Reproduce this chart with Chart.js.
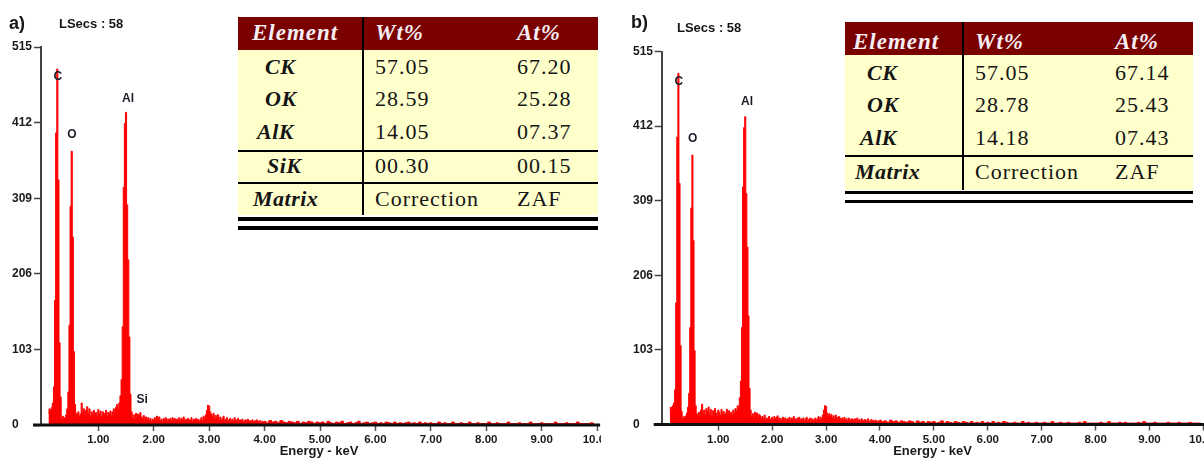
<!DOCTYPE html>
<html><head><meta charset="utf-8">
<script src="https://cdn.jsdelivr.net/npm/chart.js@4.4.1/dist/chart.umd.min.js"></script>
<style>
html,body{margin:0;padding:0;background:#fff;}
#wrap{position:relative;width:1204px;height:459px;overflow:hidden;background:#fff;}
.clip{position:absolute;top:0;height:459px;overflow:hidden;}
.clip canvas{position:absolute;left:0;top:0;}
.lbl{position:absolute;font-family:"Liberation Sans",Arial,sans-serif;font-weight:bold;color:#151515;white-space:nowrap;line-height:1;}
.tbl{position:absolute;background:#ffffcc;}
.blk{position:absolute;background:#000;}
.t{position:absolute;font-family:"Liberation Serif","Times New Roman",serif;white-space:nowrap;height:30px;line-height:30px;color:#151515;font-size:22px;letter-spacing:1px;}
.t.el{font-weight:bold;font-style:italic;letter-spacing:0.5px;}
.t.hd{font-weight:bold;font-style:italic;color:#f4eef4;font-size:23px;letter-spacing:1px;}
</style></head>
<body>
<div id="wrap">
  <div class="clip" style="left:0;width:601px;"><canvas id="cA" width="625" height="459"></canvas></div>
  <div class="clip" style="left:602px;width:602px;"><canvas id="cB" width="630" height="459"></canvas></div>
  <div class="lbl" style="left:9px;top:14px;font-size:18px;">a)</div>
  <div class="lbl" style="left:59px;top:17px;font-size:13px;">LSecs :&nbsp;58</div>
  <div class="lbl" style="left:631px;top:13px;font-size:18px;">b)</div>
  <div class="lbl" style="left:677px;top:21px;font-size:13px;">LSecs :&nbsp;58</div>
</div>
<script>
// ---------- data ----------
const xTickValues = [1,2,3,4,5,6,7,8,9,10];
const yTickStep = 103, yMax = 515;
const startKeV = 0.10, binKeV = 0.02;   // channel calibration of main arrays
const tailStartKeV = 4.00, tailBinKeV = 0.05;

// panel a) counts, 0.10 .. 3.98 keV
const countsA = [
  16,22,20,24,30,52,170,398,485,334,
  112,38,9,12,8,10,14,22,45,136,
  298,373,256,100,28,16,14,18,12,15,
  30,18,22,14,20,25,16,22,13,18,
  14,20,11,17,13,21,15,19,12,18,
  16,14,20,13,17,15,19,13,18,22,
  17,24,28,22,30,40,62,134,324,411,
  426,300,225,120,42,18,10,14,9,16,
  12,15,13,17,11,9,13,8,11,7,
  10,6,9,5,8,7,10,6,12,9,
  11,6,8,5,9,7,10,6,8,7,
  9,6,10,7,9,5,8,7,10,6,
  9,7,11,6,8,5,9,7,6,10,
  5,8,7,9,6,8,5,7,10,6,
  12,9,14,20,27,26,18,15,12,16,
  9,13,10,14,8,11,7,9,12,6,
  8,10,5,7,9,6,8,5,10,7,
  6,9,5,7,6,8,4,6,7,5,
  8,4,6,5,7,4,6,5,7,4,
  5,6,3,5,4
];
// panel a) counts, 4.00 .. 9.95 keV
const tailA = [
  5,3,6,4,5,3,6,4,3,5,
  4,3,5,2,4,3,5,4,2,4,
  3,4,2,5,3,2,4,3,5,2,
  3,4,2,3,5,2,3,4,2,3,
  4,2,3,2,4,3,2,4,2,3,
  2,3,4,2,3,2,4,2,3,2,
  3,2,2,4,2,3,2,2,4,2,
  2,3,2,2,4,2,2,3,2,2,
  2,4,2,2,3,2,2,2,4,2,
  2,2,3,2,2,2,4,2,2,2,
  3,2,2,2,2,4,2,2,2,3,
  2,2,2,4,2,2,2,2,3,2
];
// panel b) counts, 0.10 .. 3.98 keV
const countsB = [
  15,24,21,26,30,48,168,397,485,333,
  109,18,8,11,9,12,16,24,43,134,
  299,372,254,102,26,15,13,17,12,20,
  28,16,20,13,22,18,24,15,21,12,
  19,14,22,16,12,20,17,13,21,15,
  18,13,16,21,14,19,15,17,13,20,
  16,22,19,26,24,37,60,134,328,410,
  425,319,245,150,50,20,11,15,10,17,
  13,16,10,14,12,9,11,8,13,7,
  9,7,11,6,8,10,7,11,8,10,
  12,7,9,6,8,10,7,9,6,8,
  7,10,6,9,8,11,6,8,7,9,
  10,6,8,7,9,5,8,10,6,7,
  9,6,8,5,7,9,6,8,11,7,
  10,8,13,20,26,25,16,12,15,11,
  14,9,12,8,13,10,7,11,9,6,
  9,7,10,6,8,5,9,7,6,8,
  7,5,8,6,9,5,7,4,8,6,
  5,7,4,6,8,5,4,7,5,6,
  4,6,5,3,5
];
// panel b) counts, 4.00 .. 9.95 keV
const tailB = [
  6,4,5,3,6,4,5,3,5,4,
  3,5,4,2,5,3,4,2,4,3,
  4,2,3,5,2,4,3,2,4,3,
  2,4,3,2,4,2,3,2,4,2,
  3,2,4,2,3,2,4,3,2,2,
  3,2,2,4,2,3,2,2,3,2,
  2,3,2,2,4,2,2,3,2,2,
  3,2,2,2,3,2,4,2,2,2,
  2,2,3,2,2,4,2,2,2,3,
  2,3,2,2,2,2,3,2,4,2,
  2,2,3,2,2,2,2,3,2,2,
  2,3,2,2,2,3,2,2,2,2
];
// peak labels
const peakNamesA = ['C','O','Al','Si'];
const peakKeVA   = [0.27, 0.525, 1.535, 1.79];
const peakCntA   = [475, 395, 445, 34];
const peakNamesB = ['C','O','Al'];
const peakKeVB   = [0.27, 0.525, 1.532];
const peakCntB   = [473, 394, 446];

// tables
const tableHeader = ['Element','Wt%','At%'];
const elementsA = ['CK','OK','AlK','SiK','Matrix'];
const wtA = ['57.05','28.59','14.05','00.30','Correction'];
const atA = ['67.20','25.28','07.37','00.15','ZAF'];
const elementsB = ['CK','OK','AlK','Matrix'];
const wtB = ['57.05','28.78','14.18','Correction'];
const atB = ['67.14','25.43','07.43','ZAF'];

// ---------- build ----------
function toPoints(main, tail){
  const pts = [];
  main.forEach((c,i)=>pts.push({x:+(startKeV+i*binKeV).toFixed(3), y:c}));
  tail.forEach((c,i)=>pts.push({x:+(tailStartKeV+i*tailBinKeV).toFixed(3), y:c}));
  return pts;
}

const FONT = '"Liberation Sans", Arial, sans-serif';

const peakPlugin = {
  id:'peakLabels',
  afterDatasetsDraw(chart, args, o){
    const {ctx, scales:{x,y}} = chart;
    ctx.save();
    ctx.font = 'bold 12px ' + FONT;
    ctx.fillStyle = '#1c1c28';
    ctx.textAlign = 'center';
    ctx.textBaseline = 'middle';
    o.names.forEach((n,i)=>ctx.fillText(n, x.getPixelForValue(o.kev[i]), y.getPixelForValue(o.cnt[i])));
    ctx.restore();
  }
};
const axisPlugin = {
  id:'axisLine',
  afterDatasetsDraw(chart, args, o){
    const {ctx, chartArea:a, scales:{y}} = chart;
    const y0 = y.getPixelForValue(0);
    ctx.save();
    ctx.fillStyle = '#111';
    ctx.fillRect(a.left - 8, y0 - 1.5, a.right - a.left + 8 + 3, 3);
    ctx.restore();
  }
};

function makeChart(id, pts, L, peaks){
  return new Chart(document.getElementById(id), {
    type:'line',
    data:{datasets:[{
      data:pts, borderColor:'#ff0000', backgroundColor:'#ff0000',
      borderWidth:1, fill:'origin', stepped:'middle', pointRadius:0, tension:0
    }]},
    options:{
      responsive:false, animation:false, devicePixelRatio:1,
      layout:{padding:{left:L.padL, right:L.padR, top:L.top, bottom:0}},
      plugins:{legend:{display:false}, tooltip:{enabled:false}, peakLabels:peaks},
      scales:{
        x:{
          type:'linear', min:L.xmin, max:10,
          afterBuildTicks:(ax)=>{ ax.ticks = xTickValues.map(v=>({value:v})); },
          afterFit:(s)=>{ s.height = L.xH; },
          grid:{drawOnChartArea:false, drawTicks:true, tickLength:6, color:'#555', tickWidth:1.5},
          border:{display:false},
          ticks:{callback:(v)=>Number(v).toFixed(2), font:{family:FONT, size:11.5, weight:'bold'}, color:'#1a1a1a', padding:2, maxRotation:0, autoSkip:false},
          title:{display:true, text:'Energy - keV', font:{family:FONT, size:13, weight:'bold'}, color:'#1a1a1a', padding:{top:0,bottom:0}}
        },
        y:{
          min:0, max:yMax,
          afterBuildTicks:(ax)=>{ const t=[]; for(let v=0; v<=yMax; v+=yTickStep) t.push({value:v}); ax.ticks=t; },
          afterFit:(s)=>{ s.width = L.yW; },
          grid:{drawOnChartArea:false, drawTicks:true, tickLength:7, color:'#444', tickWidth:1.5},
          border:{display:true, color:'#444', width:2},
          ticks:{crossAlign:'far', font:{family:FONT, size:12, weight:'bold'}, color:'#1a1a1a', padding:1}
        }
      }
    },
    plugins:[peakPlugin, axisPlugin]
  });
}

makeChart('cA', toPoints(countsA, tailA),
  {padL:12, yW:29, padR:625-597.1, top:47, xH:34, xmin:-0.0343},
  {names:peakNamesA, kev:peakKeVA, cnt:peakCntA});
makeChart('cB', toPoints(countsB, tailB),
  {padL:31, yW:28.7, padR:630-601.4, top:51.5, xH:34.5, xmin:-0.050},
  {names:peakNamesB, kev:peakKeVB, cnt:peakCntB});

// ---------- tables ----------
function el(cls, style, text){
  const d = document.createElement('div');
  d.className = cls; d.setAttribute('style', style);
  if (text !== undefined) d.textContent = text;
  document.getElementById('wrap').appendChild(d);
  return d;
}
function buildTable(T, elems, wts, ats){
  el('tbl', `left:${T.left}px;top:${T.top}px;width:${T.width}px;height:${T.bottom-T.top}px;`);
  el('blk', `left:${T.left}px;top:${T.top}px;width:${T.width}px;height:${T.hdrBottom-T.top}px;background:#7a0000;`);
  el('blk', `left:${T.divX}px;top:${T.top}px;width:2px;height:${T.bottom-T.top}px;`);
  T.hLines.forEach(y=>el('blk', `left:${T.left}px;top:${y}px;width:${T.width}px;height:2px;`));
  T.dbl.forEach(y=>el('blk', `left:${T.left}px;top:${y}px;width:${T.width}px;height:3.5px;`));
  const hx = [T.hdrElX, T.wtX, T.atX];
  tableHeader.forEach((h,i)=>el('t hd', `left:${hx[i]}px;top:${T.hdrCy-15}px;`, h));
  elems.forEach((e,i)=>{
    el('t el', `left:${T.elX[i]}px;top:${T.rowCy[i]-15}px;`, e);
    el('t', `left:${T.wtX}px;top:${T.rowCy[i]-15}px;`, wts[i]);
    el('t', `left:${T.atX}px;top:${T.rowCy[i]-15}px;`, ats[i]);
  });
}
buildTable({left:238, top:17, width:360, bottom:215, hdrBottom:50, divX:362, hLines:[150,181.5], dbl:[217,226],
  hdrCy:33, hdrElX:252, wtX:375, atX:517, elX:[265,265,257,267,253], rowCy:[66.7,99.3,131.7,166,199.3]},
  elementsA, wtA, atA);
buildTable({left:845, top:22, width:348, bottom:190, hdrBottom:55, divX:962, hLines:[155], dbl:[190.5,199.5],
  hdrCy:41.7, hdrElX:853, wtX:975, atX:1115, elX:[867,867,860,855], rowCy:[73.3,105,138.3,171.7]},
  elementsB, wtB, atB);
</script>
</body></html>
